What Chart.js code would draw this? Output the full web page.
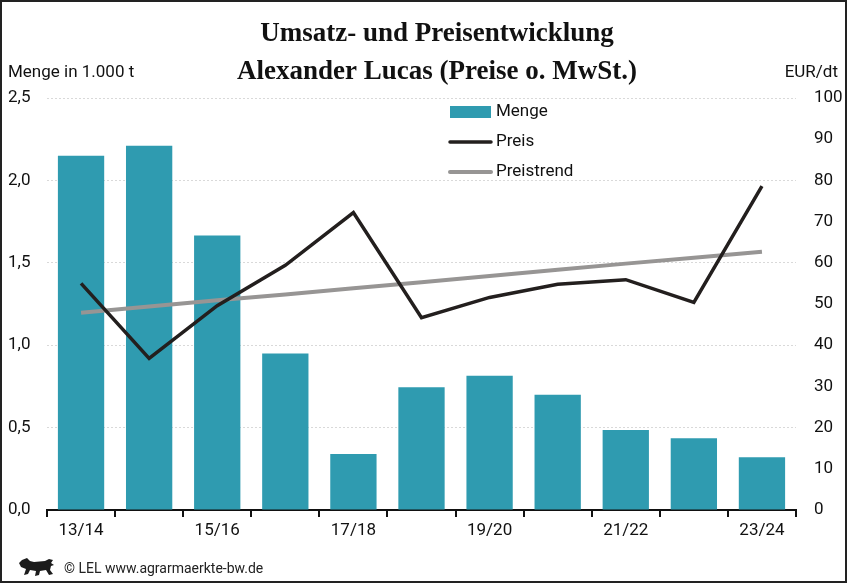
<!DOCTYPE html>
<html>
<head>
<meta charset="utf-8">
<script src="https://cdn.jsdelivr.net/npm/chart.js@4/dist/chart.umd.min.js"></script>
<style>
    html, body { margin: 0; padding: 0; background: #fff; }
    #wrap { position: relative; width: 847px; height: 583px; box-sizing: border-box; border: 2px solid #222; }
    #foot { position: absolute; left: 16px; top: 555px; font: 14px "Roboto", sans-serif; color: #222; }
    #foot svg { vertical-align: -4px; margin-right: 8px; }
</style>
</head>
<body>
<div id="wrap">
    <canvas id="c" width="843" height="579"></canvas>
    <div id="foot"><svg width="38" height="20" viewBox="0 0 38 20"><path fill="#1c1c1c" d="M4 3 L9 1 L12 4 L16 5 L27 4 L31 2 L35 3 L33 6 L36 8 L33 9 L32 13 L35 17 L31 18 L28 13 L22 14 L21 18 L17 19 L18 14 L12 13 L10 17 L6 18 L8 12 L3 10 L1 6 Z"/></svg>© LEL www.agrarmaerkte-bw.de</div>
</div>
<script>
var labels = ["13/14", "14/15", "15/16", "16/17", "17/18", "18/19", "19/20", "20/21", "21/22", "22/23", "23/24"]
var menge = [2.15, 2.21, 1.665, 0.95, 0.34, 0.745, 0.815, 0.70, 0.485, 0.435, 0.32]
var preis = [55, 36.8, 49.6, 59.4, 72.2, 46.7, 51.6, 54.8, 55.9, 50.4, 78.6]
var preistrend = [47.9, 49.4, 50.9, 52.3, 53.8, 55.3, 56.8, 58.3, 59.8, 61.2, 62.7]

var fontSans = '"Roboto", sans-serif'
var barColor = "#2f9bb0"
var preisColor = "#231f1e"
var trendColor = "#979594"

var decoPlugin = {
    id: "deco",
    afterDraw: function(chart) {
        var ctx = chart.ctx
        ctx.save()
        // titles
        ctx.fillStyle = "#111"
        ctx.textAlign = "center"
        ctx.textBaseline = "middle"
        ctx.font = 'bold 27px "Liberation Serif", "DejaVu Serif", serif'
        ctx.fillText("Umsatz- und Preisentwicklung", 435, 32)
        ctx.fillText("Alexander Lucas (Preise o. MwSt.)", 435, 70)
        // axis titles
        ctx.font = "17px " + fontSans
        ctx.textAlign = "left"
        ctx.fillText("Menge in 1.000 t", 6, 71)
        ctx.textAlign = "right"
        ctx.fillText("EUR/dt", 836, 71)
        // legend
        ctx.textAlign = "left"
        ctx.font = "17px " + fontSans
        ctx.fillStyle = barColor
        ctx.fillRect(448, 104, 41, 12)
        ctx.fillStyle = "#111"
        ctx.fillText("Menge", 494, 110)
        ctx.lineCap = "round"
        ctx.lineWidth = 3.5
        ctx.strokeStyle = preisColor
        ctx.beginPath(); ctx.moveTo(448, 140); ctx.lineTo(489, 140); ctx.stroke()
        ctx.fillText("Preis", 494, 140)
        ctx.lineWidth = 4
        ctx.strokeStyle = trendColor
        ctx.beginPath(); ctx.moveTo(448, 170); ctx.lineTo(489, 170); ctx.stroke()
        ctx.fillText("Preistrend", 494, 170)
        ctx.restore()
    }
}

new Chart(document.getElementById("c"), {
    type: "bar",
    data: {
        labels: labels,
        datasets: [
            {
                type: "line", label: "Preistrend", data: preistrend, yAxisID: "y1",
                borderColor: trendColor, borderWidth: 4, pointRadius: 0, tension: 0, order: 1
            },
            {
                type: "line", label: "Preis", data: preis, yAxisID: "y1",
                borderColor: preisColor, borderWidth: 3.5, pointRadius: 0, tension: 0, order: 0
            },
            {
                label: "Menge", data: menge, yAxisID: "y", backgroundColor: barColor,
                categoryPercentage: 1, barPercentage: 0.68, order: 2
            }
        ]
    },
    options: {
        responsive: false,
        animation: false,
        layout: { padding: { top: 96, bottom: 0, left: 6, right: 0 } },
        plugins: { legend: { display: false }, tooltip: { enabled: false } },
        scales: {
            x: {
                grid: { display: true, drawOnChartArea: false, offset: true, tickLength: 7, color: "#111", lineWidth: 2 },
                border: { display: true, color: "#111", width: 2 },
                ticks: {
                    color: "#111", font: { family: fontSans, size: 17 }, padding: 4, maxRotation: 0, autoSkip: false,
                    callback: function(v, i) { return i % 2 == 0 ? labels[i] : "" }
                },
                afterFit: function(s) { s.height = 71 }
            },
            y: {
                position: "left", min: 0, max: 2.5,
                grid: { color: "#d9d9d9", drawTicks: false },
                border: { display: false, dash: [2, 2] },
                ticks: {
                    stepSize: 0.5, color: "#111", font: { family: fontSans, size: 17 }, padding: 6, crossAlign: "far",
                    callback: function(v) { return v.toFixed(1).replace(".", ",") }
                },
                afterFit: function(s) { s.width = 39 }
            },
            y1: {
                position: "right", min: 0, max: 100,
                grid: { display: false, drawTicks: true, tickLength: 14 },
                border: { display: false },
                ticks: { stepSize: 10, color: "#111", font: { family: fontSans, size: 17 }, padding: 4, crossAlign: "near" },
                afterFit: function(s) { s.width = 49 }
            }
        }
    },
    plugins: [decoPlugin]
})
</script>
</body>
</html>
